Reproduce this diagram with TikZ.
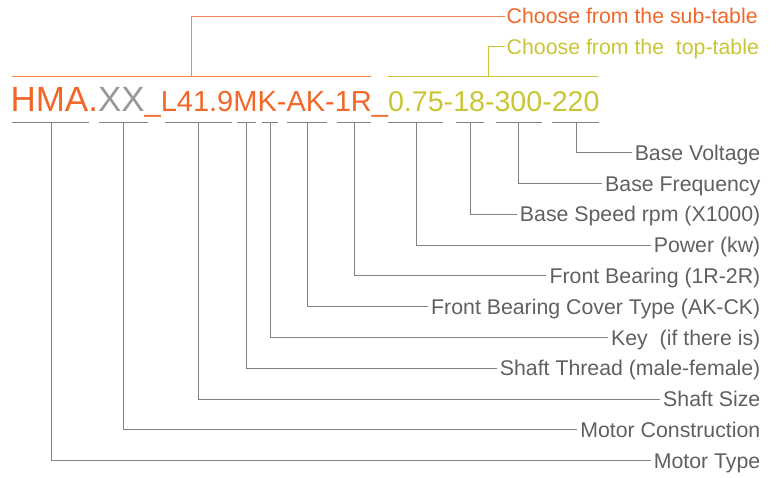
\documentclass[tikz,border=0pt]{standalone}
\usepackage{fontspec}
\setmainfont{Liberation Sans}
\usetikzlibrary{positioning}
\definecolor{codeorange}{RGB}{242,103,40}
\definecolor{codegray}{RGB}{152,152,152}
\definecolor{codeolive}{RGB}{200,198,52}
\definecolor{linegray}{RGB}{128,128,128}
\definecolor{labelgray}{RGB}{96,96,96}
\begin{document}
\begin{tikzpicture}[
    x=1pt, y=-1pt,
    partlabel/.style={anchor=east, inner sep=3pt, text=labelgray, font=\fontsize{21.3}{21.3}\selectfont, text height=15.2pt, text depth=0pt},
    note/.style={anchor=west, inner sep=1.5pt, font=\fontsize{21.3}{21.3}\selectfont, text height=15.2pt, text depth=0pt},
    underbar/.style={draw=linegray, line width=1pt},
    leader/.style={draw=linegray, line width=1pt},
    bracket/.style={line width=1pt}
]
    \useasboundingbox (0,0) rectangle (779,477);
    % Model code
    \node[anchor=base west, inner sep=0pt] (code) at (10.3,111) {\fontsize{35}{35}\selectfont\textcolor{codeorange}{HMA.}\textcolor{codegray}{XX}\fontsize{29}{29}\selectfont\textcolor{codeorange}{\_L41.9MK-AK-1R\_}\fontsize{28.6}{28.6}\selectfont\textcolor{codeolive}{0.75-18-300-220}};
    % Notes above the code
    \node[note, text=codeorange] (subnote) at (505,16) {Choose from the sub-table};
    \node[note, text=codeolive] (topnote) at (505,46.7) {Choose from the\ \ top-table};
    \draw[bracket, draw=codeorange!80] (12.3,76.7) -- (371,76.7);
    \coordinate (subfoot) at (191.7,76.7);
    \draw[bracket, draw=codeorange!80] (subfoot) |- (subnote.west);
    \draw[bracket, draw=codeolive] (388.3,76.7) -- (598.3,76.7);
    \coordinate (topfoot) at (488.3,76.7);
    \draw[bracket, draw=codeolive] (topfoot) |- (topnote.west);
    % Underbars below each part of the code
    \draw[underbar] (12.3,122.3) -- (89.3,122.3);
    \draw[underbar] (99.3,122.3) -- (147.7,122.3);
    \draw[underbar] (165,122.3) -- (231.7,122.3);
    \draw[underbar] (237.3,122.3) -- (256,122.3);
    \draw[underbar] (262,122.3) -- (278.3,122.3);
    \draw[underbar] (287.3,122.3) -- (327.3,122.3);
    \draw[underbar] (337.3,122.3) -- (371,122.3);
    \draw[underbar] (388.3,122.3) -- (443.3,122.3);
    \draw[underbar] (456,122.3) -- (484,122.3);
    \draw[underbar] (495.7,122.3) -- (541.7,122.3);
    \draw[underbar] (552.3,122.3) -- (599,122.3);
    % Tick points
    \coordinate (tType) at (51,122.3);
    \coordinate (tConstr) at (123.7,122.3);
    \coordinate (tSize) at (198.7,122.3);
    \coordinate (tThread) at (246.7,122.3);
    \coordinate (tKey) at (270,122.3);
    \coordinate (tCover) at (307.3,122.3);
    \coordinate (tBearing) at (354.3,122.3);
    \coordinate (tPower) at (416,122.3);
    \coordinate (tSpeed) at (470,122.3);
    \coordinate (tFreq) at (518.3,122.3);
    \coordinate (tVolt) at (576,122.3);
    % Labels on the right
    \node[partlabel] (lVolt) at (763.5,152.6) {Base Voltage};
    \node[partlabel] (lFreq) at (763.5,183.4) {Base Frequency};
    \node[partlabel] (lSpeed) at (763.5,214.2) {Base Speed rpm (X1000)};
    \node[partlabel] (lPower) at (763.5,245) {Power (kw)};
    \node[partlabel] (lBearing) at (763.5,275.8) {Front Bearing (1R-2R)};
    \node[partlabel] (lCover) at (763.5,306.6) {Front Bearing Cover Type (AK-CK)};
    \node[partlabel] (lKey) at (763.5,337.4) {Key\ \ (if there is)};
    \node[partlabel] (lThread) at (763.5,368.2) {Shaft Thread (male-female)};
    \node[partlabel] (lSize) at (763.5,399) {Shaft Size};
    \node[partlabel] (lConstr) at (763.5,429.8) {Motor Construction};
    \node[partlabel] (lType) at (763.5,460.6) {Motor Type};
    % Leaders
    \draw[leader] (tVolt) |- (lVolt.west);
    \draw[leader] (tFreq) |- (lFreq.west);
    \draw[leader] (tSpeed) |- (lSpeed.west);
    \draw[leader] (tPower) |- (lPower.west);
    \draw[leader] (tBearing) |- (lBearing.west);
    \draw[leader] (tCover) |- (lCover.west);
    \draw[leader] (tKey) |- (lKey.west);
    \draw[leader] (tThread) |- (lThread.west);
    \draw[leader] (tSize) |- (lSize.west);
    \draw[leader] (tConstr) |- (lConstr.west);
    \draw[leader] (tType) |- (lType.west);
\end{tikzpicture}
\end{document}
